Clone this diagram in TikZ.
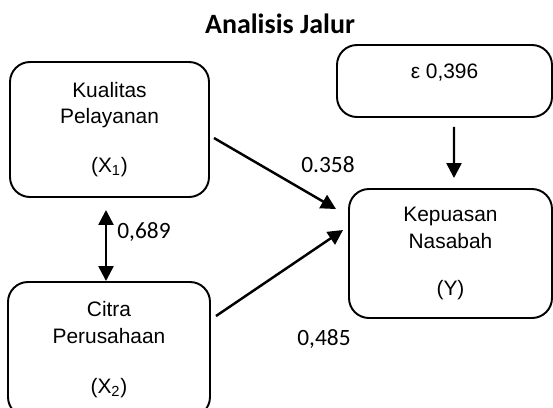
\documentclass[tikz,border=0pt]{standalone}
\usepackage{fontspec}
\setmainfont{Liberation Sans}
\newfontfamily\numfont{Carlito}
\usepackage{tikz}
\usetikzlibrary{calc,arrows.meta}

\begin{document}
\begin{tikzpicture}[scale=0.2]
            \tikzstyle{every node}+=[inner sep=0pt]
            \tikzstyle{var}=[draw=black, line width=1.1pt, rounded corners=4mm, align=center, font=\fontsize{11.9}{15.3}\selectfont]
            \tikzstyle{effect}=[black, line width=1.4pt, -{Triangle[length=8.5pt,width=8.5pt]}]
            \tikzstyle{korelasi}=[black, line width=1.4pt, {Triangle[length=8.5pt,width=8.5pt]}-{Triangle[length=8.5pt,width=8.5pt]}]
            \tikzstyle{coef}=[font=\numfont\fontsize{13.3}{16}\selectfont]
            \useasboundingbox (0,0) rectangle (55.3,-40.7);
            \node (judul) [anchor=base, font=\numfont\bfseries\fontsize{15.9}{19}\selectfont] at (28.0,-3.3) {Analisis Jalur};
            \node (kual) [var, minimum width=39.8mm, minimum height=27mm] at (10.95,-12.95) {Kualitas\\Pelayanan\\[12.5pt](X\textsubscript{1})};
            \node (citra) [var, minimum width=40.4mm, minimum height=27mm] at (10.9,-34.95) {Citra\\Perusahaan\\[13.5pt](X\textsubscript{2})};
            \node (kep) [var, minimum width=40.6mm, minimum height=25.8mm] at (45.05,-25.35) {Kepuasan\\Nasabah\\[11.5pt](Y)};
            \node (eps) [var, align=none, text height=8.5pt, text depth=11.5pt, minimum width=43mm, minimum height=14.4mm] at (44.45,-8.1) {ε 0,396};
            \draw [effect] ($(kual.east)+(0.4,-0.85)$) -- ($(kep.north west)+(-1.2,-2.1)$);
            \draw [effect] ($(citra.north east)+(0.5,-3.5)$) -- ($(kep.west)+(-0.5,2.35)$);
            \draw [effect] ($(eps.south)+(0.95,-0.9)$) -- ($(kep.north)+(0.35,1.0)$);
            \draw [korelasi] ($(kual.south)+(-0.35,-1.2)$) -- ($(citra.north)+(-0.3,0)$);
            \node (b1) [coef] at (32.8,-16.5) {0.358};
            \node (b2) [coef] at (32.4,-33.9) {0,485};
            \node (r12) [coef] at (14.4,-23.2) {0,689};
        \end{tikzpicture}
\end{document}
